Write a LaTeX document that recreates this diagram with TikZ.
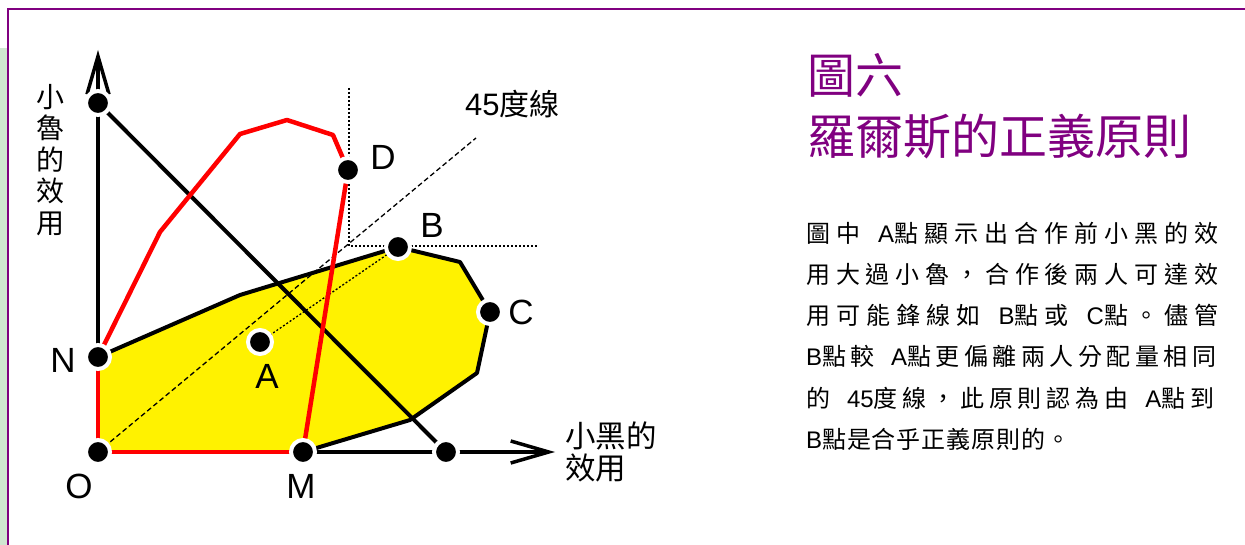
\documentclass[tikz,border=0pt]{standalone}
\usepackage{fontspec}
\setmainfont{Liberation Sans}
\newfontfamily\cjk{Noto Sans CJK TC}
\usetikzlibrary{arrows.meta}
\definecolor{framepurple}{HTML}{800080}
\definecolor{stripgreen}{HTML}{D0E6D0}
\newcommand\sk{\hskip 0pt plus 1fil\relax}
\newcommand\gp{\hskip 12pt plus 1fil\relax}
\newcount\mycc
\mycc="4E00
\loop \XeTeXcharclass\mycc=1 \advance\mycc by 1 \ifnum\mycc<"A000 \repeat
\XeTeXcharclass"FF0C=3
\XeTeXcharclass"3002=3
\XeTeXinterchartoks 1 1 = {\sk}
\XeTeXinterchartoks 1 3 = {\sk}
\XeTeXinterchartoks 3 1 = {\sk}
\newcommand\bodyfont{\XeTeXinterchartokenstate=1 \fontsize{24}{26}\selectfont}
\newcommand\cjkbody{\cjk\fontsize{24}{26}\selectfont}
\begin{document}
\begin{tikzpicture}[x=1pt,y=-1pt,
  dot/.style={circle,fill=black,draw=white,line width=4pt,minimum size=24pt,inner sep=0pt},
  lab/.style={inner sep=0pt,font=\fontsize{35}{40}\selectfont},
  axisline/.style={line width=3.5pt,-{Straight Barb[length=38pt,width=22pt]}},
  redline/.style={red,line width=4.5pt,line join=round},
  blackline/.style={line width=4pt,line join=round},
  finedots/.style={line width=1.3pt,dash pattern=on 2pt off 2pt},
  finedash/.style={line width=1.3pt,dash pattern=on 5pt off 3pt},
  bodyline/.style={anchor=base west,inner sep=0pt},
  titleline/.style={anchor=base west,inner sep=0pt,text=framepurple,font=\cjk\fontsize{48}{52}\selectfont}
]
\useasboundingbox (0,0) rectangle (1245,545);
% frame
\fill[stripgreen] (0,48) rectangle (7,545);
\draw[framepurple,line width=2.5pt] (8,545) -- (8,9) -- (1245,9);
% coordinates
\coordinate (O) at (98,452);
\coordinate (N) at (98,357);
\coordinate (T) at (98,103);
\coordinate (M) at (303,452);
\coordinate (X) at (446,452);
\coordinate (A) at (260,342);
\coordinate (B) at (398,247);
\coordinate (C) at (490,312);
\coordinate (D) at (348,170);
\coordinate (ytip) at (98,50);
\coordinate (xtip) at (555,452);
\coordinate (k1) at (240,295);
\coordinate (k2) at (460,262);
\coordinate (k3) at (477,373);
\coordinate (k4) at (410,420);
\coordinate (r1) at (160,232);
\coordinate (r2) at (240,134);
\coordinate (r3) at (287,120);
\coordinate (r4) at (333,135);
\coordinate (g1) at (349,88);
\coordinate (g0) at (349,246);
\coordinate (g2) at (538,246);
\coordinate (f) at (476,138);
% feasible region
\fill[yellow] (O) -- (N) -- (k1) -- (B) -- (k2) -- (C) -- (k3) -- (k4) -- (M) -- cycle;
% guides
\draw[finedash] (O) -- (f);
\draw[finedots] (A) -- (B);
\draw[finedots] (g1) -- (g0) -- (g2);
% axes
\draw[axisline] (O) -- (ytip);
\draw[axisline] (O) -- (xtip);
% frontier
\draw[blackline] (N) -- (k1) -- (B) -- (k2) -- (C) -- (k3) -- (k4) -- (M);
\draw[blackline] (T) -- (X);
% red
\draw[redline] (N) -- (O) -- (M);
\draw[redline] (N) -- (r1) -- (r2) -- (r3) -- (r4) -- (D) -- (M);
% dots
\foreach \p in {O,N,T,M,X,A,B,C,D} \node[dot] (\p dot) at (\p) {};
% labels
\node[lab] (Dl) at (383,157) {D};
\node[lab] (Bl) at (432,225) {B};
\node[lab] (Cl) at (521,312) {C};
\node[lab] (Nl) at (63,360) {N};
\node[lab] (Al) at (267,376) {A};
\node[lab] (Ol) at (79,486) {O};
\node[lab] (Ml) at (301,486) {M};
\node[anchor=base west,inner sep=0pt] (l45) at (465,116) {\fontsize{31}{36}\selectfont 45{\cjk\fontsize{30}{36}\selectfont 度線}};
\node[align=center,inner sep=0pt,font=\cjk\fontsize{28}{31.5}\selectfont] (ylab) at (50,160) {小\\魯\\的\\效\\用};
\node[align=left,anchor=west,inner sep=0pt,font=\cjk\fontsize{30.5}{32}\selectfont] (xlab) at (565,452) {小黑的\\效用};
% title
\node[titleline] (t1) at (807,94) {圖六};
\node[titleline] (t2) at (807,155) {羅爾斯的正義原則};
% body
\node[bodyline] (b1) at (806,243) {\bodyfont\hbox to 412pt{{\cjkbody 圖中}\gp A{\cjkbody 點顯示出合作前小黑的效}}};
\node[bodyline] (b2) at (806,284) {\bodyfont\hbox to 412pt{{\cjkbody 用大過小魯，合作後兩人可達效}}};
\node[bodyline] (b3) at (806,325) {\bodyfont\hbox to 412pt{{\cjkbody 用可能鋒線如}\gp B{\cjkbody 點或}\gp C{\cjkbody 點。儘管}}};
\node[bodyline] (b4) at (806,366) {\bodyfont\hbox to 410pt{B{\cjkbody 點較}\gp A{\cjkbody 點更偏離兩人分配量相同}}};
\node[bodyline] (b5) at (806,407) {\bodyfont\hbox to 408pt{{\cjkbody 的}\gp 45{\cjkbody 度線，此原則認為由}\gp A{\cjkbody 點到}}};
\node[bodyline] (b6) at (806,448) {\bodyfont\hbox to 264pt{B{\cjkbody 點是合乎正義原則的。}}};
\end{tikzpicture}
\end{document}
